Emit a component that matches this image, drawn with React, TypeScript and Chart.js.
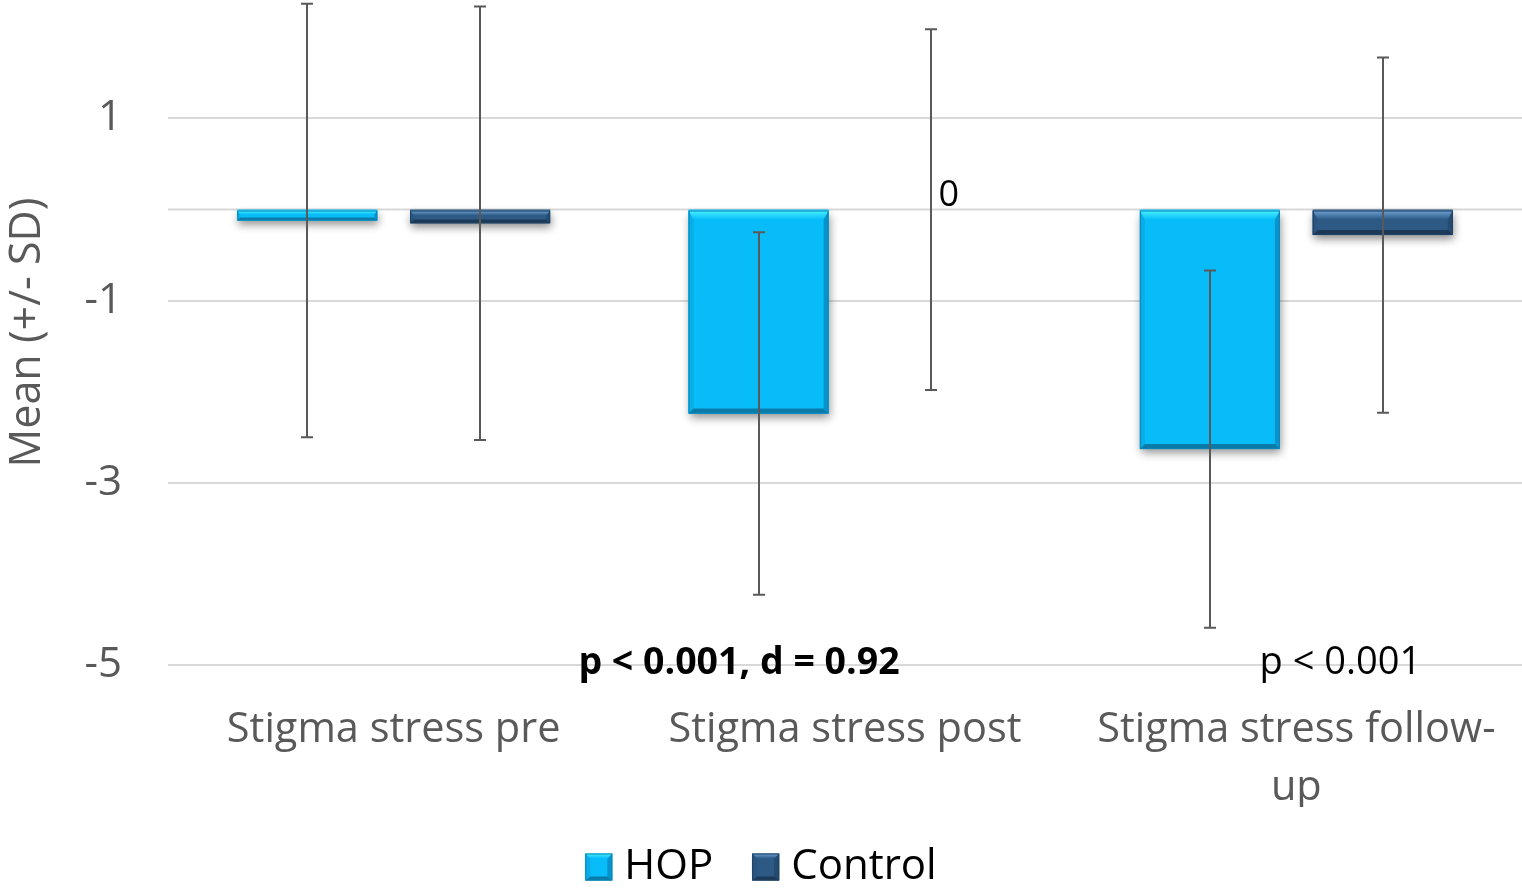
import React, { useEffect, useRef } from "react";
import { Chart, registerables } from "chart.js";

Chart.register(...registerables);

const CATEGORIES: (string | string[])[] = [
  "Stigma stress pre",
  "Stigma stress post",
  ["Stigma stress follow-", "up"],
];
const SERIES_NAMES = ["HOP", "Control"];
const HOP_MEANS = [-0.12, -2.24, -2.63];
const CONTROL_MEANS = [-0.15, 0, -0.28];
const HOP_SD = [2.38, 1.99, 1.96];
const CONTROL_SD = [2.38, 1.98, 1.95];
const CONTROL_LABELS = ["", "0", ""];
const Y_TICKS = [1, -1, -3, -5];
const Y_MIN = -5;
const Y_MAX = 2.3;
const Y_TITLE = "Mean (+/- SD)";
const ANNOTATION_TEXTS = ["", "p < 0.001, d = 0.92", "p < 0.001"];

const FONT = "'Open Sans', Lato, sans-serif";
const GREY = "#595959";

const PALETTE = [
  { main: "#08BCFA", top: "#4AF2FF", left: "#0AAEE6", right: "#0894CA", bottom: "#0A7BA8", stroke: "#0A86B8" },
  { main: "#2D5A85", top: "#6DA2D4", left: "#2A5580", right: "#244B70", bottom: "#1C3A57", stroke: "#1F4262" },
];

const drawBevel = (ctx: any, l: number, t: number, r: number, bt: number, pal: any, bTop: number, bSide: number, bBot: number) => {
  const poly = (pts: number[][], fill: any) => {
    ctx.beginPath();
    ctx.moveTo(pts[0][0], pts[0][1]);
    for (let i = 1; i < pts.length; i++) ctx.lineTo(pts[i][0], pts[i][1]);
    ctx.closePath();
    ctx.fillStyle = fill;
    ctx.fill();
  };
  poly([[l, t], [l + bSide, t + bTop], [l + bSide, bt - bBot], [l, bt]], pal.left);
  poly([[r, t], [r - bSide, t + bTop], [r - bSide, bt - bBot], [r, bt]], pal.right);
  const gTop = ctx.createLinearGradient(0, t, 0, t + bTop);
  gTop.addColorStop(0, pal.top);
  gTop.addColorStop(1, pal.main);
  poly([[l, t], [r, t], [r - bSide, t + bTop], [l + bSide, t + bTop]], gTop);
  poly([[l, bt], [r, bt], [r - bSide, bt - bBot], [l + bSide, bt - bBot]], pal.bottom);
  ctx.strokeStyle = pal.stroke;
  ctx.lineWidth = 1;
  ctx.strokeRect(l + 0.5, t + 0.5, r - l - 1, bt - t - 1);
};

const barDecor = {
  id: "barDecor",
  beforeDatasetsDraw(chart: any) {
    const { ctx, chartArea, scales } = chart;
    const y0 = scales.y.getPixelForValue(0);
    ctx.save();
    ctx.strokeStyle = "#D9D9D9";
    ctx.lineWidth = 2;
    ctx.beginPath();
    ctx.moveTo(chartArea.left, y0);
    ctx.lineTo(chartArea.right, y0);
    ctx.stroke();
    chart.data.datasets.forEach((_ds: any, di: number) => {
      const meta = chart.getDatasetMeta(di);
      meta.data.forEach((el: any) => {
        const { x, y, base, width } = el.getProps(["x", "y", "base", "width"], true);
        const top = Math.min(y, base) + 1;
        const bot = Math.max(y, base);
        if (bot - top < 1) return;
        ctx.save();
        ctx.shadowColor = "rgba(0,0,0,0.45)";
        ctx.shadowBlur = 9;
        ctx.shadowOffsetX = 1;
        ctx.shadowOffsetY = 4;
        ctx.fillStyle = PALETTE[di].main;
        ctx.fillRect(x - width / 2, top, width, bot - top);
        ctx.restore();
      });
    });
    ctx.restore();
  },
  afterDatasetsDraw(chart: any) {
    const { ctx, scales } = chart;
    const sds = [HOP_SD, CONTROL_SD];
    ctx.save();
    chart.data.datasets.forEach((_ds: any, di: number) => {
      const meta = chart.getDatasetMeta(di);
      const pal = PALETTE[di];
      meta.data.forEach((el: any) => {
        const { x, y, base, width } = el.getProps(["x", "y", "base", "width"], true);
        const t = Math.min(y, base) + 1;
        const bt = Math.max(y, base);
        const h = bt - t;
        if (h < 1) return;
        drawBevel(ctx, x - width / 2, t, x + width / 2, bt, pal, Math.min(9, h * 0.4), Math.min(5, h * 0.3), Math.min(5, h * 0.3));
      });
    });
    // error bars
    ctx.strokeStyle = GREY;
    ctx.lineWidth = 2;
    chart.data.datasets.forEach((ds: any, di: number) => {
      const meta = chart.getDatasetMeta(di);
      meta.data.forEach((el: any, i: number) => {
        const m = ds.data[i];
        const sd = sds[di][i];
        const x = Math.round(el.x);
        const yHi = scales.y.getPixelForValue(m + sd);
        const yLo = scales.y.getPixelForValue(m - sd);
        ctx.beginPath();
        ctx.moveTo(x, yHi);
        ctx.lineTo(x, yLo);
        ctx.moveTo(x - 6, yHi);
        ctx.lineTo(x + 6, yHi);
        ctx.moveTo(x - 6, yLo);
        ctx.lineTo(x + 6, yLo);
        ctx.stroke();
      });
    });
    // data label for control
    const metaC = chart.getDatasetMeta(1);
    ctx.fillStyle = "#000000";
    ctx.font = `36px ${FONT}`;
    ctx.textAlign = "left";
    ctx.textBaseline = "alphabetic";
    metaC.data.forEach((el: any, i: number) => {
      const txt = CONTROL_LABELS[i];
      if (!txt) return;
      ctx.fillText(txt, el.x + 7, scales.y.getPixelForValue(CONTROL_MEANS[i]) - 4);
    });
    // annotations
    ctx.textAlign = "center";
    ctx.textBaseline = "middle";
    const yAnn = scales.y.getPixelForValue(Y_MIN) - 2;
    ANNOTATION_TEXTS.forEach((txt, i) => {
      if (!txt) return;
      const cx = scales.x.getPixelForValue(i);
      if (i === 1) {
        ctx.font = `bold 37.5px ${FONT}`;
        ctx.fillText(txt, cx - 106, yAnn);
      } else {
        ctx.font = `38px ${FONT}`;
        ctx.fillText(txt, cx + 44, yAnn);
      }
    });
    ctx.restore();
  },
  afterDraw(chart: any) {
    const { ctx } = chart;
    const legend = chart.legend;
    if (!legend || !legend.legendHitBoxes) return;
    ctx.save();
    legend.legendHitBoxes.forEach((hb: any, i: number) => {
      const size = 27;
      const l = hb.left;
      const t = hb.top + (hb.height - size) / 2;
      ctx.fillStyle = "#ffffff";
      ctx.fillRect(l - 1, t - 1, size + 2, size + 2);
      ctx.fillStyle = PALETTE[i].main;
      ctx.fillRect(l, t, size, size);
      drawBevel(ctx, l, t, l + size, t + size, PALETTE[i], 5, 5, 4);
    });
    ctx.restore();
  },
};

export default function App() {
  const ref = useRef<HTMLCanvasElement | null>(null);
  useEffect(() => {
    if (!ref.current) return;
    const chart = new Chart(ref.current, {
      type: "bar",
      data: {
        labels: CATEGORIES as any,
        datasets: [
          {
            label: SERIES_NAMES[0],
            data: HOP_MEANS,
            backgroundColor: PALETTE[0].main,
            borderWidth: 0,
            categoryPercentage: 0.766,
            barPercentage: 0.81,
          },
          {
            label: SERIES_NAMES[1],
            data: CONTROL_MEANS,
            backgroundColor: PALETTE[1].main,
            borderWidth: 0,
            categoryPercentage: 0.766,
            barPercentage: 0.81,
          },
        ],
      },
      options: {
        responsive: false,
        animation: false,
        devicePixelRatio: 1,
        layout: { padding: { top: 0, left: 0, right: 0, bottom: -9 } },
        plugins: {
          tooltip: { enabled: false },
          legend: {
            position: "bottom",
            labels: {
              color: GREY,
              font: { size: 42, family: FONT },
              boxWidth: 18,
              boxHeight: 18,
              padding: 39,
              generateLabels: () =>
                SERIES_NAMES.map((n, i) => ({
                  text: n,
                  fillStyle: PALETTE[i].main,
                  strokeStyle: PALETTE[i].stroke,
                  lineWidth: 1,
                  datasetIndex: i,
                  hidden: false,
                })),
            },
          },
        },
        scales: {
          x: {
            grid: { display: false, drawTicks: false },
            border: { display: false },
            ticks: {
              color: GREY,
              font: { size: 41.5, family: FONT, lineHeight: 1.38 },
              padding: 37,
              maxRotation: 0,
              autoSkip: false,
            },
            afterFit: (s: any) => {
              s.height = 142;
              s.paddingLeft = 0;
              s.paddingRight = 0;
            },
          },
          y: {
            min: Y_MIN,
            max: Y_MAX,
            afterBuildTicks: (s: any) => {
              s.ticks = Y_TICKS.map((v) => ({ value: v }));
            },
            grid: { color: "#D9D9D9", lineWidth: 2, drawTicks: false },
            border: { display: false },
            ticks: {
              color: GREY,
              font: { size: 42, family: FONT },
              padding: 46,
            },
            title: {
              display: true,
              text: Y_TITLE,
              color: GREY,
              font: { size: 43, family: FONT },
              padding: { top: 2, bottom: 0 },
            },
            afterFit: (s: any) => {
              s.width = 168;
              s.paddingTop = 0;
              s.paddingBottom = 0;
            },
          },
        },
      },
      plugins: [barDecor],
    });
    return () => chart.destroy();
  }, []);
  return (
    <div style={{ position: "fixed", left: 0, top: 0, width: 1522, height: 889, background: "#ffffff" }}>
      <canvas ref={ref} width={1522} height={889} style={{ display: "block" }} />
    </div>
  );
}
